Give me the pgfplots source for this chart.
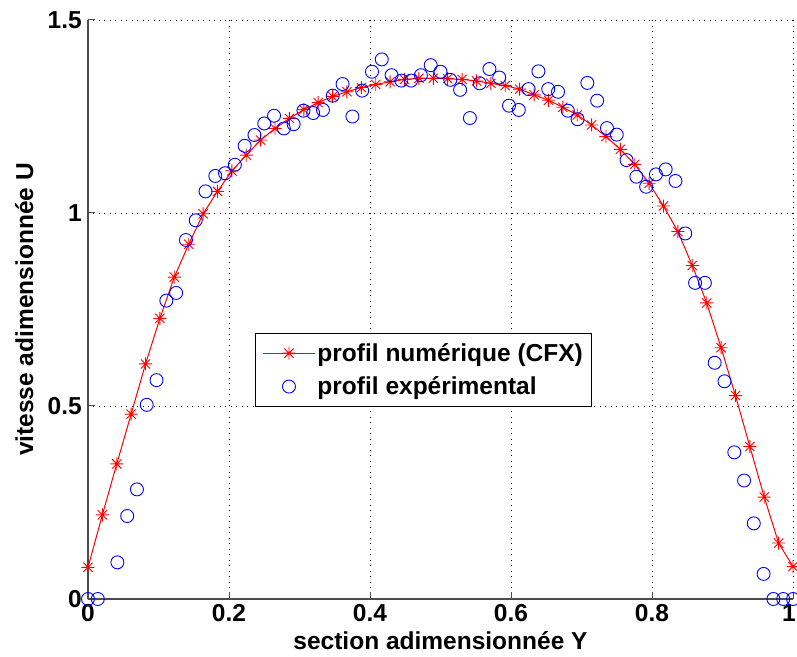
\documentclass[border=0pt]{standalone}
\usepackage{fontspec}
\setmainfont{Liberation Sans}
\usepackage{pgfplots}
\pgfplotsset{compat=1.18}
\pgfdeclareplotmark{matstar}{%
  \pgfpathmoveto{\pgfqpoint{-\pgfplotmarksize}{0pt}}\pgfpathlineto{\pgfqpoint{\pgfplotmarksize}{0pt}}%
  \pgfpathmoveto{\pgfqpoint{0pt}{-\pgfplotmarksize}}\pgfpathlineto{\pgfqpoint{0pt}{\pgfplotmarksize}}%
  \pgfpathmoveto{\pgfqpoint{-0.707\pgfplotmarksize}{-0.707\pgfplotmarksize}}\pgfpathlineto{\pgfqpoint{0.707\pgfplotmarksize}{0.707\pgfplotmarksize}}%
  \pgfpathmoveto{\pgfqpoint{-0.707\pgfplotmarksize}{0.707\pgfplotmarksize}}\pgfpathlineto{\pgfqpoint{0.707\pgfplotmarksize}{-0.707\pgfplotmarksize}}%
  \pgfusepathqstroke}
\newcommand{\chartfont}{\fontsize{24.5bp}{29bp}\selectfont\bfseries}
\begin{document}
\begin{tikzpicture}
\path[use as bounding box] (-88bp,-58bp) rectangle (709bp,599bp);
\begin{axis}[
  at={(0,0)}, anchor=south west,
  scale only axis, width=705bp, height=579bp,
  xmin=0, xmax=1, ymin=0, ymax=1.5,
  xtick={0,0.2,0.4,0.6,0.8,1}, ytick={0,0.5,1,1.5},
  xticklabels={0,0.2,0.4,0.6,0.8,\hspace*{-8bp}1}, yticklabels={0,0.5,1,1.5},
  axis x line*=bottom, axis y line*=left,
  axis line style={black!70, line width=1.2bp},
  tick align=inside, major tick length=7bp,
  tick style={black!70, line width=1bp},
  grid=major,
  major grid style={black, line width=0.9bp, dash pattern=on 1bp off 4.5bp},
  ticklabel style={font=\chartfont},
  xticklabel style={anchor=north, inner xsep=0pt, inner ysep=5bp},
  yticklabel style={anchor=east, inner ysep=0pt, inner xsep=6bp},
  xlabel={section adimensionnée Y},
  ylabel={vitesse adimensionnée U},
  label style={font=\chartfont},
  xlabel style={at={(axis description cs:0.5,-0.088)}, anchor=base},
  ylabel style={at={(axis description cs:-0.078,0.5)}, anchor=base, rotate=0},
  clip=false,
  legend style={at={(rel axis cs:0.237,0.4594)}, anchor=north west,
    draw=black, line width=0.8bp, fill=white, font=\chartfont,
    inner xsep=7bp, inner ysep=8bp, row sep=10bp,
    /tikz/every even column/.append style={column sep=7bp}},
  legend cell align=left,
  legend image code/.code={\draw[mark repeat=2,mark phase=2,#1] plot coordinates {(0bp,0bp)(26bp,0bp)(52bp,0bp)};},
]
\addplot[red, line width=1bp, mark=matstar, mark size=6.5bp, mark options={solid, line width=0.9bp}] coordinates {
(0,0.082) (0.0204,0.218) (0.0408,0.350) (0.0612,0.479) (0.0816,0.609)
(0.1020,0.727) (0.1224,0.834) (0.1429,0.919) (0.1633,0.998) (0.1837,1.056)
(0.2041,1.109) (0.2245,1.150) (0.2449,1.189) (0.2653,1.219) (0.2857,1.245)
(0.3061,1.268) (0.3265,1.286) (0.3469,1.302) (0.3673,1.314) (0.3878,1.325)
(0.4082,1.333) (0.4286,1.340) (0.4490,1.346) (0.4694,1.349) (0.4898,1.349)
(0.5102,1.348) (0.5306,1.346) (0.5510,1.342) (0.5714,1.336) (0.5918,1.330)
(0.6122,1.321) (0.6327,1.306) (0.6531,1.292) (0.6735,1.274) (0.6939,1.254)
(0.7143,1.228) (0.7347,1.198) (0.7551,1.165) (0.7755,1.126) (0.7959,1.077)
(0.8163,1.018) (0.8367,0.952) (0.8571,0.864) (0.8776,0.767) (0.8980,0.651)
(0.9184,0.527) (0.9388,0.395) (0.9592,0.264) (0.9796,0.145) (1.0000,0.084)
};
\addlegendentry{profil numérique (CFX)}
\addplot[only marks, blue, mark=o, mark size=6.5bp, mark options={line width=0.9bp}] coordinates {
(0,0) (0.0139,0) (0.0417,0.095) (0.0556,0.215) (0.0694,0.284)
(0.0833,0.503) (0.0972,0.567) (0.1111,0.773) (0.125,0.793) (0.1389,0.930)
(0.1528,0.981) (0.1667,1.056) (0.1806,1.096) (0.1944,1.103) (0.2083,1.125)
(0.2222,1.174) (0.2361,1.202) (0.25,1.232) (0.2639,1.252) (0.2778,1.219)
(0.2917,1.230) (0.3056,1.265) (0.3194,1.259) (0.3333,1.267) (0.3472,1.304)
(0.3611,1.334) (0.375,1.250) (0.3889,1.317) (0.4028,1.366) (0.4167,1.398)
(0.4306,1.357) (0.4444,1.343) (0.4583,1.343) (0.4722,1.357) (0.4861,1.383)
(0.5,1.366) (0.5139,1.345) (0.5278,1.319) (0.5417,1.246) (0.5556,1.336)
(0.5694,1.373) (0.5833,1.351) (0.5972,1.278) (0.6111,1.267) (0.625,1.321)
(0.6389,1.367) (0.6528,1.321) (0.6667,1.314) (0.6806,1.265) (0.6944,1.243)
(0.7083,1.337) (0.7222,1.291) (0.7361,1.220) (0.75,1.203) (0.7639,1.137)
(0.7778,1.094) (0.7917,1.068) (0.8056,1.100) (0.8194,1.113) (0.8333,1.083)
(0.8472,0.947) (0.8611,0.819) (0.875,0.819) (0.8889,0.612) (0.9028,0.564)
(0.9167,0.380) (0.9306,0.307) (0.9444,0.196) (0.9583,0.065) (0.9722,0)
(0.9861,0) (1,0)
};
\addlegendentry{profil expérimental}
\end{axis}
\end{tikzpicture}
\end{document}
